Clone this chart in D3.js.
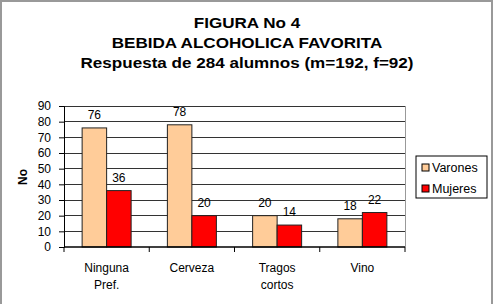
<!DOCTYPE html>
<html>
<head>
<meta charset="utf-8">
<script src="https://cdn.jsdelivr.net/npm/d3@7"></script>
<style>
  body { margin: 0; background: #fff; }
  text { font-family: "Liberation Sans", Arial, sans-serif; }
</style>
</head>
<body>
<div id="chart"></div>
<script>
// chart data
var categories = [["Ninguna", "Pref."], ["Cerveza"], ["Tragos", "cortos"], ["Vino"]];
var seriesNames = ["Varones", "Mujeres"];
var varones = [76, 78, 20, 18];
var mujeres = [36, 20, 14, 22];
var yTicks = [0, 10, 20, 30, 40, 50, 60, 70, 80, 90];
var titleLines = ["FIGURA No 4", "BEBIDA ALCOHOLICA FAVORITA", "Respuesta de 284 alumnos (m=192, f=92)"];
var colors = ["#FFCC99", "#FF0000"];

(function() {
    var width = 497, height = 304;

    var svg = d3.select("#chart").append("svg")
        .attr("width", width)
        .attr("height", height);

    // outer frame
    svg.append("rect")
        .attr("x", 1).attr("y", 1)
        .attr("width", 491).attr("height", 306)
        .attr("fill", "#fff")
        .attr("stroke", "#999").attr("stroke-width", 2);

    // titles (the original font is wider than Arial, so stretch horizontally)
    svg.selectAll(".title").data(titleLines).enter().append("text")
        .attr("class", "title")
        .attr("transform", function(d, i) { return "translate(247," + (28 + i * 20) + ") scale(1.22,1)"; })
        .attr("text-anchor", "middle")
        .style("font-size", "14px")
        .style("font-weight", "bold")
        .text(function(d) { return d; });

    var plot = { left: 64, top: 106, right: 405, bottom: 247 };

    var x0 = d3.scaleBand().domain(d3.range(categories.length))
        .range([plot.left, plot.right]).paddingInner(0).paddingOuter(0);
    var barW = x0.bandwidth() * 49 / 85.25 / 2;
    var y = d3.scaleLinear().domain([0, 90]).range([plot.bottom, plot.top]);

    // gridlines
    svg.append("g").selectAll("line").data(yTicks.filter(function(d) { return d > 0; }))
        .enter().append("line")
        .attr("x1", plot.left).attr("x2", plot.right)
        .attr("y1", function(d) { return y(d); }).attr("y2", function(d) { return y(d); })
        .attr("stroke", "#333").attr("stroke-width", 1)
        .attr("shape-rendering", "crispEdges");

    // plot right border
    svg.append("line")
        .attr("x1", plot.right).attr("x2", plot.right)
        .attr("y1", plot.top).attr("y2", plot.bottom)
        .attr("stroke", "#999").attr("shape-rendering", "crispEdges");

    // bars
    var series = [varones, mujeres];
    series.forEach(function(vals, s) {
        svg.append("g").selectAll("rect").data(vals).enter().append("rect")
            .attr("x", function(d, i) { return x0(i) + (x0.bandwidth() - 2 * barW) / 2 + s * barW; })
            .attr("y", function(d) { return y(d); })
            .attr("width", barW)
            .attr("height", function(d) { return y(0) - y(d); })
            .attr("fill", colors[s])
            .attr("stroke", "#222").attr("stroke-width", 1);

        svg.append("g").selectAll("text").data(vals).enter().append("text")
            .attr("x", function(d, i) { return x0(i) + (x0.bandwidth() - 2 * barW) / 2 + s * barW + barW / 2; })
            .attr("y", function(d) { return y(d) - 9; })
            .attr("text-anchor", "middle")
            .style("font-size", "12px")
            .text(function(d) { return d; });
    });

    // y axis
    var yAxis = svg.append("g")
        .attr("transform", "translate(" + plot.left + ",0)")
        .call(d3.axisLeft(y).tickValues(yTicks).tickSize(5).tickPadding(8));
    yAxis.select(".domain").attr("stroke", "#000");
    yAxis.selectAll("text").style("font-size", "12px")
        .style("font-family", "Liberation Sans, Arial, sans-serif").attr("fill", "#000");

    // x axis
    var xAxis = svg.append("g")
        .attr("transform", "translate(0," + plot.bottom + ")");
    xAxis.append("line")
        .attr("x1", plot.left).attr("x2", plot.right)
        .attr("stroke", "#000").attr("stroke-width", 1.5);
    xAxis.selectAll(".tk").data(d3.range(categories.length + 1)).enter().append("line")
        .attr("class", "tk")
        .attr("x1", function(d) { return plot.left + d * x0.bandwidth(); })
        .attr("x2", function(d) { return plot.left + d * x0.bandwidth(); })
        .attr("y1", 0).attr("y2", 5)
        .attr("stroke", "#000");
    var labels = xAxis.selectAll(".cat").data(categories).enter().append("text")
        .attr("class", "cat")
        .attr("text-anchor", "middle")
        .style("font-size", "12px");
    labels.each(function(d, i) {
        var t = d3.select(this);
        d.forEach(function(line, j) {
            t.append("tspan")
                .attr("x", x0(i) + x0.bandwidth() / 2)
                .attr("y", 25 + j * 17)
                .text(line);
        });
    });

    // y label
    svg.append("text")
        .attr("transform", "translate(27,177) rotate(-90)")
        .attr("text-anchor", "middle")
        .style("font-size", "12px")
        .style("font-weight", "bold")
        .text("No");

    // legend
    var leg = svg.append("g").attr("transform", "translate(416,156)");
    leg.append("rect")
        .attr("width", 71).attr("height", 42)
        .attr("fill", "#fff").attr("stroke", "#000");
    seriesNames.forEach(function(name, i) {
        leg.append("rect")
            .attr("x", 6).attr("y", 8 + i * 21)
            .attr("width", 7).attr("height", 7)
            .attr("fill", colors[i]).attr("stroke", "#000");
        leg.append("text")
            .attr("x", 16).attr("y", 16 + i * 21)
            .style("font-size", "12.5px")
            .text(name);
    });
})();
</script>
</body>
</html>
